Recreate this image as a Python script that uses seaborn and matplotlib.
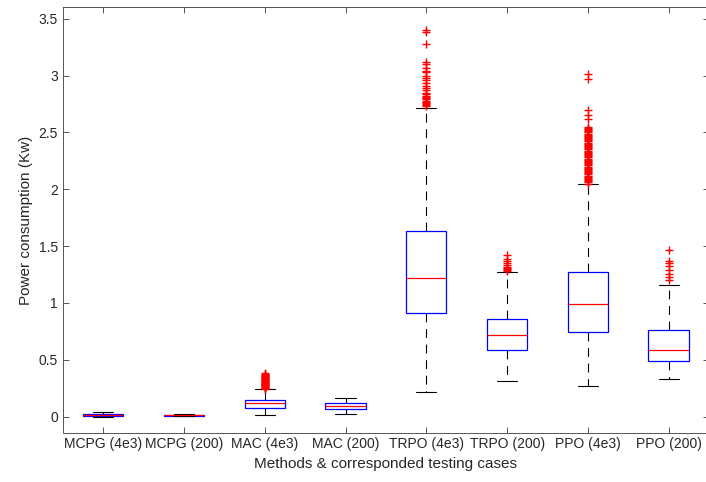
import numpy as np
import pandas as pd
import matplotlib
matplotlib.use("Agg")
import matplotlib.pyplot as plt
import seaborn as sns

methods = ["MCPG (4e3)", "MCPG (200)", "MAC (4e3)", "MAC (200)",
           "TRPO (4e3)", "TRPO (200)", "PPO (4e3)", "PPO (200)"]
whislo = [0.000, 0.003, 0.018, 0.026, 0.217, 0.318, 0.269, 0.333]
q1 = [0.005, 0.008, 0.079, 0.064, 0.910, 0.588, 0.749, 0.494]
med = [0.015, 0.011, 0.117, 0.094, 1.222, 0.719, 0.989, 0.588]
q3 = [0.025, 0.014, 0.149, 0.123, 1.632, 0.862, 1.269, 0.760]
whishi = [0.040, 0.022, 0.240, 0.167, 2.717, 1.269, 2.047, 1.155]

fliers_mac4e3 = [0.245, 0.25, 0.255, 0.26, 0.265, 0.27, 0.275, 0.28, 0.285,
                 0.29, 0.295, 0.30, 0.305, 0.31, 0.315, 0.32, 0.325, 0.33,
                 0.335, 0.34, 0.345, 0.35, 0.355, 0.36, 0.365, 0.37, 0.375,
                 0.38]
fliers_trpo4e3 = [3.40, 3.38, 3.28, 3.12, 3.10, 3.07, 3.04, 3.03, 3.00,
                  2.98, 2.96, 2.93, 2.91, 2.89, 2.87, 2.85, 2.84, 2.82,
                  2.81, 2.80, 2.79, 2.78, 2.77, 2.76, 2.75, 2.74, 2.73]
fliers_trpo200 = [1.42, 1.39, 1.37, 1.35, 1.33, 1.32, 1.31, 1.30, 1.29, 1.28]
fliers_ppo4e3 = [3.01, 2.97, 2.70, 2.65, 2.62, 2.55, 2.54, 2.53, 2.52, 2.51,
                 2.50, 2.49, 2.48, 2.47, 2.46, 2.45, 2.44, 2.43, 2.42, 2.41,
                 2.40, 2.39, 2.38, 2.37, 2.36, 2.35, 2.34, 2.33, 2.32, 2.31,
                 2.30, 2.29, 2.28, 2.27, 2.26, 2.25, 2.24, 2.23, 2.22, 2.21,
                 2.20, 2.19, 2.18, 2.17, 2.16, 2.15, 2.14, 2.13, 2.12, 2.11,
                 2.10, 2.09, 2.08, 2.07, 2.06, 2.05]
fliers_ppo200 = [1.465, 1.37, 1.35, 1.325, 1.29, 1.255, 1.23, 1.20]

yticks = [0, 0.5, 1, 1.5, 2, 2.5, 3, 3.5]
ytick_labels = ["0", "0.5", "1", "1.5", "2", "2.5", "3", "3.5"]

sns.set_style("ticks")
plt.rcParams["font.family"] = ["Liberation Sans", "DejaVu Sans"]
plt.rcParams.update({
    "xtick.direction": "in", "ytick.direction": "in",
    "xtick.top": True, "ytick.right": True,
    "xtick.major.size": 4, "ytick.major.size": 4,
    "xtick.major.width": 0.6, "ytick.major.width": 0.6,
    "axes.linewidth": 0.6, "axes.edgecolor": "#3a3a3a",
    "xtick.color": "#3a3a3a", "ytick.color": "#3a3a3a",
    "xtick.labelcolor": "#262626", "ytick.labelcolor": "#262626",
})

fig = plt.figure(figsize=(7.06, 4.82), dpi=100)
ax = fig.add_axes([62.8 / 706, (482 - 432.5) / 482,
                   (709 - 62.8) / 706, (432.5 - 7.3) / 482])

stats = np.column_stack([whislo, q1, med, q3, whishi])
box_df = pd.DataFrame({"method": np.repeat(methods, 5),
                       "value": stats.ravel()})

sns.boxplot(data=box_df, x="method", y="value", order=methods,
            whis=(0, 100), width=0.5, color="white", linecolor="black",
            linewidth=0.8, showfliers=False, ax=ax,
            boxprops={"facecolor": "none", "edgecolor": "blue", "linewidth": 0.9},
            medianprops={"color": "red", "linewidth": 0.9},
            whiskerprops={"color": "black", "linewidth": 0.8,
                          "linestyle": (0, (8, 6))},
            capprops={"color": "black", "linewidth": 0.8})

flier_groups = {"MAC (4e3)": fliers_mac4e3, "TRPO (4e3)": fliers_trpo4e3,
                "TRPO (200)": fliers_trpo200, "PPO (4e3)": fliers_ppo4e3,
                "PPO (200)": fliers_ppo200}
fl_df = pd.DataFrame([(k, v) for k, vals in flier_groups.items() for v in vals],
                     columns=["method", "value"])
sns.stripplot(data=fl_df, x="method", y="value", order=methods, jitter=False,
              marker="+", color="red", edgecolor="red", size=6, linewidth=1.0,
              ax=ax, zorder=3)

ax.set_xlim(-0.5, 7.5)
ax.set_ylim(-0.139, 3.6)
ax.set_yticks(yticks)
ax.set_yticklabels(ytick_labels)
ax.tick_params(axis="both", labelsize=10)
ax.set_xlabel("Methods & corresponded testing cases", fontsize=11, color="#262626")
ax.set_ylabel("Power consumption (Kw)", fontsize=11, color="#262626")
for s in ax.spines.values():
    s.set_visible(True)

fig.savefig("out.png", dpi=100)
